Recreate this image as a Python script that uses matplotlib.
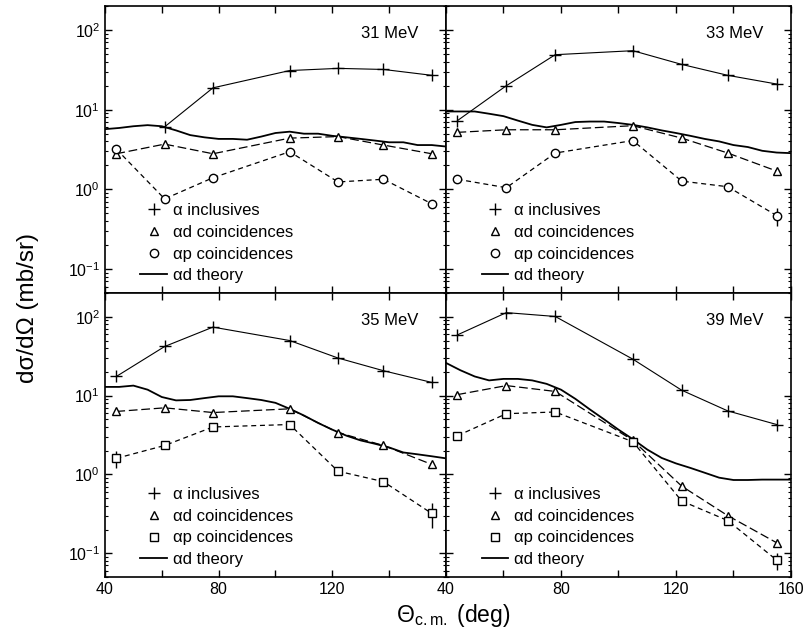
import numpy as np
import matplotlib
matplotlib.use('Agg')
import matplotlib.pyplot as plt
from matplotlib.lines import Line2D

plt.rcParams['font.family'] = ['Liberation Sans', 'DejaVu Sans']
plt.rcParams['mathtext.fontset'] = 'custom'
plt.rcParams['mathtext.rm'] = 'Liberation Sans'
plt.rcParams['mathtext.it'] = 'Liberation Sans:italic'

nan = np.nan

# c.m. angles of the measured points (deg)
angles = [44, 61, 78, 105, 122, 138, 155]
# angles of the theory curve
theoryAngles = [40, 45, 50, 55, 60, 65, 70, 75, 80, 85, 90, 95, 100,
                105, 110, 115, 120, 125, 130, 135, 140, 145, 150, 155, 160]

energies = ['31 MeV', '33 MeV', '35 MeV', '39 MeV']

# alpha inclusives (mb/sr)
inc31 = [nan, 6.1, 18.8, 31, 33, 32, 27]
inc33 = [7.3, 20, 49, 55, 37, 27, 21]
inc35 = [17.5, 42, 74, 50, 30, 20.7, 14.7]
inc39 = [59, 113, 101, 29, 11.7, 6.4, 4.3]

# alpha-d coincidences
ad31 = [2.8, 3.7, 2.8, 4.4, 4.6, 3.6, 2.8]
ad33 = [5.2, 5.6, 5.6, 6.3, 4.4, 2.86, 1.7]
ad35 = [6.3, 7.0, 6.1, 6.8, 3.4, 2.33, 1.34]
ad39 = [10.3, 13.4, 11.3, 2.7, 0.71, 0.30, 0.136]

# alpha-p coincidences
ap31 = [3.2, 0.76, 1.4, 2.97, 1.24, 1.34, 0.66]
ap33 = [1.34, 1.05, 2.86, 4.1, 1.27, 1.08, 0.47]
ap35 = [1.6, 2.33, 4.0, 4.3, 1.1, 0.81, 0.32]
ap39 = [3.1, 5.9, 6.2, 2.6, 0.46, 0.26, 0.082]

# errors on alpha-p points (only the visible ones)
apErr31 = [0, 0, 0, 0, 0, 0, 0]
apErr33 = [0, 0, 0, 0, 0, 0, 0.12]
apErr35 = [0.4, 0, 0, 0, 0, 0, 0.11]
apErr39 = [0, 0, 0, 0, 0, 0, 0.02]

# alpha-d theory
th31 = [5.7, 5.9, 6.2, 6.4, 6.2, 5.5, 4.8, 4.5, 4.3, 4.3, 4.2, 4.6, 5.1,
        5.3, 5.0, 5.0, 4.7, 4.5, 4.3, 4.1, 3.9, 3.9, 3.6, 3.6, 3.45]
th33 = [9.5, 9.5, 9.5, 8.9, 8.3, 7.3, 6.45, 6.0, 6.45, 7.0, 7.1, 7.1, 6.8,
        6.45, 6.0, 5.5, 5.1, 4.7, 4.3, 4.0, 3.6, 3.4, 3.05, 2.9, 2.85]
th35 = [12.9, 12.9, 13.4, 11.9, 9.6, 8.7, 8.8, 9.3, 9.8, 9.8, 9.3, 8.8, 8.1,
        6.8, 5.6, 4.5, 3.7, 3.1, 2.7, 2.45, 2.2, 1.9, 1.8, 1.7, 1.6]
th39 = [26, 21, 17.5, 15.6, 16.3, 16.3, 15.6, 14.1, 11.9, 9.1, 6.7, 5.0, 3.7,
        2.8, 2.07, 1.62, 1.38, 1.21, 1.05, 0.91, 0.85, 0.85, 0.86, 0.86, 0.86]

incAll = [inc31, inc33, inc35, inc39]
adAll = [ad31, ad33, ad35, ad39]
apAll = [ap31, ap33, ap35, ap39]
apErrAll = [apErr31, apErr33, apErr35, apErr39]
thAll = [th31, th33, th35, th39]
apMarkers = ['o', 'o', 's', 's']

fig = plt.figure(figsize=(8.05, 6.33), dpi=100)
left, mid, right = 0.1304, 0.554, 0.9826
bot, cen, top = 0.0885, 0.537, 0.9905
boxes = [(left, cen, mid - left, top - cen), (mid, cen, right - mid, top - cen),
         (left, bot, mid - left, cen - bot), (mid, bot, right - mid, cen - bot)]

for i, box in enumerate(boxes):
    ax = fig.add_axes(box)
    ax.set_yscale('log')
    ax.plot(theoryAngles, thAll[i], '-', color='black', lw=1.3)
    ax.plot(angles, incAll[i], '-', color='black', lw=0.8, marker='+',
            ms=9, mew=1.0)
    ax.plot(angles, adAll[i], color='black', lw=0.9, ls=(0, (7, 3)),
            marker='^', ms=6, mfc='white', mew=1.0)
    ax.errorbar(angles, apAll[i], yerr=apErrAll[i], color='black', lw=0.9,
                ls=(0, (4, 3)), marker=apMarkers[i], ms=6, mfc='white',
                mew=1.0, elinewidth=1.0, capsize=0)
    ax.set_xlim(40, 160)
    ax.set_ylim(0.05, 200)
    ax.set_xticks([40, 60, 80, 100, 120, 140, 160])
    ax.tick_params(which='both', direction='in', top=True, right=True,
                   labelsize=11.5)
    ax.tick_params(which='major', length=5, width=1)
    ax.tick_params(which='minor', length=2.5, width=0.8)
    for s in ax.spines.values():
        s.set_linewidth(1.2)
    if i >= 2:
        labs = ['40', '', '80', '', '120', '', '160']
        if i == 2:
            labs[-1] = ''
        ax.set_xticklabels(labs)
    else:
        ax.set_xticklabels([])
    ax.set_yticks([0.1, 1, 10, 100])
    if i % 2 == 1:
        ax.set_yticklabels([])
    ax.text(0.92, 0.905, energies[i], transform=ax.transAxes, ha='right',
            va='center', fontsize=12)
    # legend: markers only for data, line for theory
    handles = [
        Line2D([], [], ls='none', marker='+', ms=9, mew=1.0, color='black'),
        Line2D([], [], ls='none', marker='^', ms=6, mew=1.0, mfc='white',
               color='black'),
        Line2D([], [], ls='none', marker=apMarkers[i], ms=6, mew=1.0,
               mfc='white', color='black'),
        Line2D([], [], ls='-', lw=1.3, color='black'),
    ]
    labels = ['α inclusives', 'αd coincidences', 'αp coincidences',
              'αd theory']
    ax.legend(handles, labels, loc='lower left', bbox_to_anchor=(0.06, -0.018),
              frameon=False, fontsize=12, handlelength=1.6,
              handletextpad=0.35, labelspacing=0.4)

fig.text(0.035, 0.513, 'dσ/dΩ (mb/sr)', rotation=90,
         ha='center', va='center', fontsize=17.5)
fig.text(0.563, 0.028, r'$\Theta_{\rm c.m.}$ (deg)', ha='center',
         va='center', fontsize=16.5)

plt.savefig('out.png', dpi=100)
